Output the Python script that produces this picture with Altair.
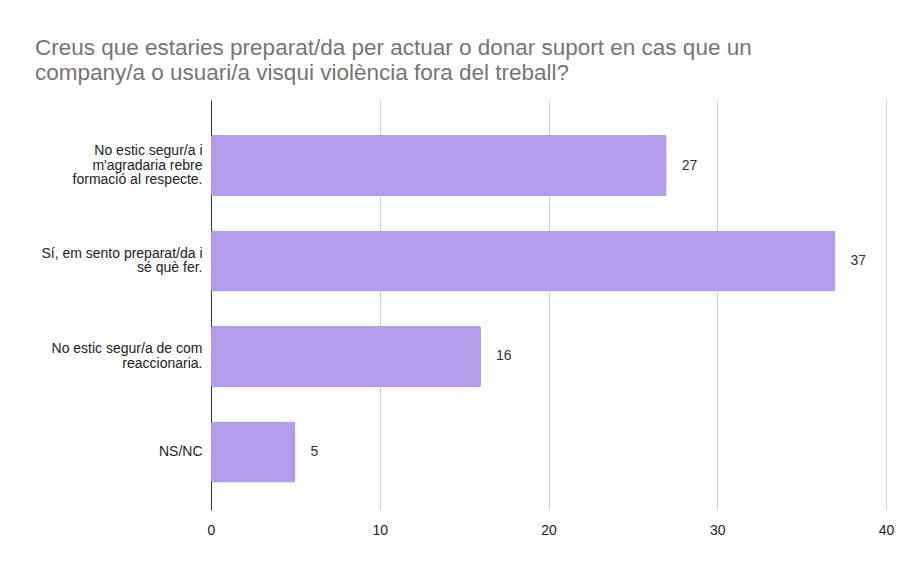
import altair as alt
import pandas as pd

categories = [
    "No estic segur/a i m'agradaria rebre formació al respecte.",
    "Sí, em sento preparat/da i sé què fer.",
    "No estic segur/a de com reaccionaria.",
    "NS/NC",
]
label_lines = [
    ["No estic segur/a i", "m'agradaria rebre", "formació al respecte."],
    ["Sí, em sento preparat/da i", "sé què fer."],
    ["No estic segur/a de com", "reaccionaria."],
    ["NS/NC"],
]
values = [27, 37, 16, 5]
x_ticks = [0, 10, 20, 30, 40]
title_lines = [
    "Creus que estaries preparat/da per actuar o donar suport en cas que un",
    "company/a o usuari/a visqui violència fora del treball?",
]

df = pd.DataFrame({"cat": categories, "val": values})

LINE_H = 14.5


def js_str(s):
    return "'" + s.replace("\\", "\\\\").replace("'", "\\'") + "'"


parts = []
for c, lines in zip(categories, label_lines):
    arr = "[" + ",".join(js_str(l) for l in lines) + "]"
    parts.append(f"datum.value === {js_str(c)} ? {arr} : ")
label_expr = "".join(parts) + "datum.value"

# shift multi-line labels up so the block is centred on the bar
offset_conditions = []
for c, lines in zip(categories, label_lines):
    n = len(lines)
    if n > 1:
        offset_conditions.append(
            {"test": f"datum.value === {js_str(c)}", "value": -(n - 1) * LINE_H / 2}
        )
label_offset = {"condition": offset_conditions, "value": 0}

y_enc = alt.Y(
    "cat:N",
    sort=categories,
    scale=alt.Scale(paddingInner=0.36, paddingOuter=0.327, align=0.56),
    axis=alt.Axis(
        title=None,
        labelExpr=label_expr,
        labelFont="Liberation Sans",
        labelFontSize=14,
        labelColor="#222222",
        labelLineHeight=LINE_H,
        labelOffset=label_offset,
        labelPadding=9,
        ticks=False,
        domain=True,
        domainColor="#333333",
        domainWidth=1,
        grid=False,
        labelLimit=300,
    ),
)

x_enc = alt.X(
    "val:Q",
    scale=alt.Scale(domain=[0, 40], nice=False),
    axis=alt.Axis(
        title=None,
        values=x_ticks,
        labelFont="Liberation Sans",
        labelFontSize=14,
        labelColor="#222222",
        labelPadding=13,
        labelFlush=False,
        ticks=False,
        domain=False,
        grid=True,
        gridColor="#d0d0d0",
        gridWidth=1,
    ),
)

bars = alt.Chart(df).mark_bar(color="#b39cec", cornerRadius=2).encode(y=y_enc, x=x_enc)

texts = alt.Chart(df).mark_text(
    align="left", baseline="middle", dx=15, font="Liberation Sans", fontSize=14, color="#333333"
).encode(y=alt.Y("cat:N", sort=categories), x=alt.X("val:Q"), text=alt.Text("val:Q"))

chart = (
    alt.layer(bars, texts)
    .properties(
        width=675,
        height=410,
        padding={"left": 203, "top": 92, "right": 10, "bottom": 30},
        autosize=alt.AutoSizeParams(type="none"),
        background="white",
        title=alt.TitleParams(
            text=title_lines,
            anchor="start",
            frame="group",
            dx=-176,
            offset=16,
            font="Liberation Sans",
            fontSize=22.5,
            fontWeight="normal",
            color="#757575",
            lineHeight=25,
        ),
    )
    .configure_view(stroke=None)
)

chart.save("out.html", embed_options={"renderer": "svg", "actions": False})
